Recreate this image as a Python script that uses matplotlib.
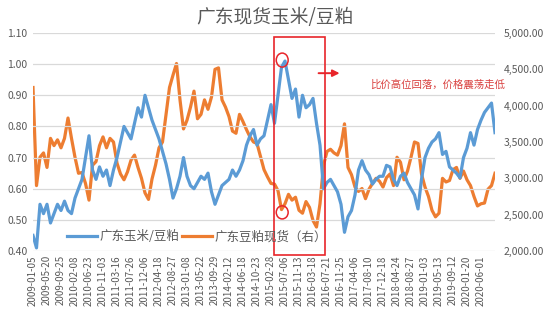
import matplotlib
matplotlib.use("Agg")
import matplotlib.pyplot as plt
import matplotlib.patches as mpatches
import matplotlib.ticker as mticker
import numpy as np

plt.rcParams["font.family"] = ["Noto Sans CJK SC", "DejaVu Sans"]
plt.rcParams["axes.unicode_minus"] = False

# ── 数据 ──
date_labels = [
    "2009-01-05", "2009-05-20", "2009-09-25", "2010-02-08", "2010-06-23",
    "2010-11-03", "2011-03-16", "2011-07-26", "2011-12-06", "2012-04-18",
    "2012-08-27", "2013-01-08", "2013-05-22", "2013-09-29", "2014-02-12",
    "2014-06-18", "2014-10-23", "2015-02-28", "2015-07-06", "2015-11-13",
    "2016-03-18", "2016-07-21", "2016-11-25", "2017-04-06", "2017-08-10",
    "2017-12-18", "2018-04-24", "2018-08-27", "2019-01-03", "2019-05-13",
    "2019-09-12", "2020-01-20", "2020-06-01",
]

# 广东玉米/豆粕 比价 (左轴)
ratio = [
    0.45, 0.41, 0.55, 0.52, 0.55, 0.49, 0.52, 0.55, 0.53, 0.56,
    0.53, 0.52, 0.57, 0.60, 0.63, 0.70, 0.77, 0.66, 0.63, 0.67,
    0.64, 0.66, 0.61, 0.66, 0.70, 0.75, 0.80, 0.78, 0.76, 0.81,
    0.86, 0.83, 0.90, 0.86, 0.82, 0.79, 0.76, 0.72, 0.68, 0.63,
    0.57, 0.60, 0.64, 0.70, 0.64, 0.61, 0.60, 0.62, 0.64, 0.63,
    0.65, 0.59, 0.55, 0.58, 0.61, 0.62, 0.63, 0.66, 0.64, 0.66,
    0.69, 0.74, 0.77, 0.79, 0.74, 0.76, 0.77, 0.82, 0.87, 0.81,
    0.90, 0.99, 1.01, 0.95, 0.89, 0.92, 0.83, 0.90, 0.86, 0.87,
    0.89, 0.81, 0.74, 0.60, 0.62, 0.63, 0.61, 0.59, 0.55, 0.46,
    0.51, 0.53, 0.58, 0.66, 0.69, 0.66, 0.645, 0.615, 0.63, 0.64,
    0.64, 0.675, 0.67, 0.63, 0.61, 0.64, 0.65, 0.62, 0.60, 0.58,
    0.535, 0.63, 0.70, 0.73, 0.75, 0.76, 0.78, 0.71, 0.72, 0.67,
    0.66, 0.65, 0.635, 0.70, 0.73, 0.78, 0.74, 0.79, 0.82, 0.845,
    0.86, 0.875, 0.78,
]

# 广东豆粕现货 价格 (右轴)
meal = [
    4250, 2900, 3290, 3350, 3150, 3550, 3450, 3530, 3420, 3550,
    3830, 3550, 3290, 3070, 3080, 2930, 2700, 3180, 3230, 3450,
    3570, 3420, 3550, 3500, 3210, 3060, 2980, 3090, 3250, 3320,
    3150, 3000, 2800, 2710, 2990, 3180, 3420, 3500, 3880, 4250,
    4420, 4580, 4080, 3680, 3800, 3980, 4200, 3820, 3880, 4080,
    3950, 4120, 4500, 4520, 4080, 3980, 3850, 3650, 3620, 3880,
    3780, 3670, 3570, 3500, 3480, 3300, 3120, 3020, 2930, 2920,
    2830, 2570, 2650, 2780, 2700, 2740, 2560, 2520, 2680, 2600,
    2420, 2330, 2650, 3180, 3370, 3400, 3350, 3320, 3450, 3750,
    3150, 3050, 2880, 2820, 2860, 2720, 2850, 2930, 3000, 2960,
    2880, 3010, 3060, 2900, 3290, 3220, 2980, 3100, 3290, 3500,
    3480, 3060, 2880, 2750, 2560, 2470, 2520, 3000, 2950, 2970,
    3120, 3150, 3000, 3100, 2980, 2900, 2750, 2620, 2650, 2660,
    2850, 2900, 3070,
]

BLUE = "#5B9BD5"
ORANGE = "#ED7D31"
GRAY = "#595959"
GRID = "#D9D9D9"
RED = "#E8252A"

# 每个刻度区间 4 个数据点
x = np.arange(len(ratio)) / 4.0

fig = plt.figure(figsize=(5.5, 3.22), dpi=100)
ax = fig.add_axes([0.06, 0.2205, 0.84, 0.677])
ax2 = ax.twinx()

ax.plot(x, ratio, color=BLUE, linewidth=2.3, label="广东玉米/豆粕", zorder=3)
ax2.plot(x, meal, color=ORANGE, linewidth=2.3, label="广东豆粕现货（右）", zorder=2)

ax.set_zorder(ax2.get_zorder() + 1)
ax.patch.set_visible(False)

ax.set_xlim(0, 33)
ax.set_ylim(0.40, 1.10)
ax2.set_ylim(2000, 5000)
ax.set_yticks(np.arange(0.40, 1.101, 0.10))
ax2.set_yticks(np.arange(2000, 5001, 500))
ax.yaxis.set_major_formatter(mticker.FormatStrFormatter("%.2f"))
ax2.yaxis.set_major_formatter(mticker.StrMethodFormatter("{x:,.2f}"))

ax.set_xticks(range(len(date_labels)))
ax.set_xticklabels(date_labels, rotation=90, color=GRAY)

for a in (ax, ax2):
    for s in a.spines.values():
        s.set_visible(False)
    a.tick_params(length=0, labelsize=7.5, labelcolor=GRAY)
ax.tick_params(axis="x", labelsize=7, pad=3)
ax.tick_params(axis="y", pad=4)
ax2.tick_params(axis="y", pad=6)

ax.grid(axis="y", color=GRID, linewidth=0.9, zorder=0)
ax.set_axisbelow(True)

# 图例
h1, l1 = ax.get_legend_handles_labels()
h2, l2 = ax2.get_legend_handles_labels()
ax.legend(h1 + h2, l1 + l2, loc="center", bbox_to_anchor=(0.355, 0.065),
          ncol=2, frameon=False, fontsize=9, labelcolor=GRAY,
          handlelength=2.4, columnspacing=0.2, handletextpad=0.2)

# 标题
fig.text(0.5, 0.945, "广东现货玉米/豆粕", ha="center", va="center",
         fontsize=13.5, color=GRAY)

# 红框与标注
rect = mpatches.Rectangle((17.21, 0.387), 3.63, 0.70, fill=False,
                          edgecolor=RED, linewidth=1.2, clip_on=False, zorder=5)
ax.add_patch(rect)
for cy, h in [(1.013, 0.045), (0.524, 0.042)]:
    ax.add_patch(mpatches.Ellipse((17.8, cy), 0.85, h, fill=False,
                                  edgecolor=RED, linewidth=1.1, zorder=6))

ax.annotate("", xy=(22.1, 0.971), xytext=(20.2, 0.971),
            arrowprops=dict(arrowstyle="-|>", color=RED, linewidth=1.4,
                            mutation_scale=10))
ax.text(24.1, 0.933, "比价高位回落，价格震荡走低", fontsize=7.5,
        color="#D9403E", ha="left", va="center")

fig.savefig("out.png", dpi=100)
plt.close(fig)
